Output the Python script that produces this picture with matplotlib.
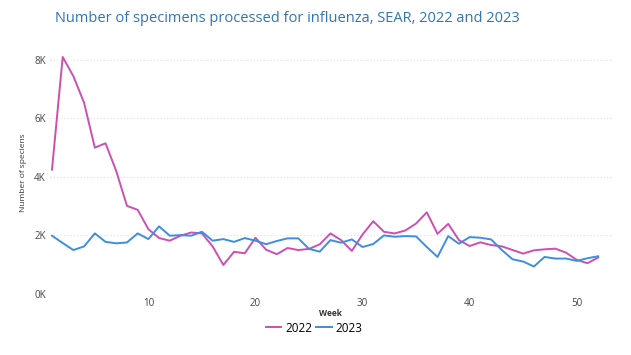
import matplotlib
matplotlib.use('Agg')
import matplotlib.pyplot as plt
from matplotlib.ticker import FuncFormatter

weeks = list(range(1, 53))
y2022 = [4250, 8100, 7440, 6530, 5000, 5150, 4200, 3010, 2875, 2215,
         1910, 1820, 1990, 2100, 2070, 1625, 990, 1440, 1390, 1920,
         1510, 1360, 1570, 1500, 1540, 1695, 2068, 1840, 1470, 2034,
         2486, 2124, 2068, 2170, 2407, 2790, 2056, 2395, 1840, 1638,
         1763, 1672, 1627, 1503, 1378, 1491, 1525, 1548, 1412, 1164,
         1051, 1243]
y2023 = [1990, 1740, 1500, 1625, 2070, 1780, 1730, 1760, 2070, 1875,
         2310, 1990, 2010, 1990, 2125, 1820, 1875, 1780, 1910, 1820,
         1700, 1810, 1900, 1900, 1540, 1446, 1840, 1751, 1864, 1604,
         1706, 2000, 1955, 1977, 1966, 1604, 1265, 1977, 1717, 1943,
         1921, 1864, 1503, 1186, 1107, 938, 1265, 1209, 1209, 1130,
         1220, 1288]
yticks = [0, 2000, 4000, 6000, 8000]
xticks = [10, 20, 30, 40, 50]

plt.rcParams['font.family'] = ['Open Sans', 'DejaVu Sans']

fig = plt.figure(figsize=(6.31, 3.55), dpi=100)
ax = fig.add_axes([0.079, 0.172, 0.891, 0.684])

ax.plot(weeks, y2022, color='#CC4FB4', lw=1.4, label='2022')
ax.plot(weeks, y2023, color='#3E8EDE', lw=1.4, label='2023')

ax.set_xlim(0.8, 53.3)
ax.set_ylim(0, 8300)
ax.set_xticks(xticks)
ax.set_yticks(yticks)
ax.yaxis.set_major_formatter(FuncFormatter(lambda v, p: '%dK' % (v / 1000)))
ax.tick_params(length=0, labelsize=7, colors='#444444', pad=3)
ax.grid(axis='y', color='#dddddd', linestyle=(0, (1, 2)), lw=0.8)
for s in ax.spines.values():
    s.set_visible(False)

ax.set_ylabel('Number of speciens', fontsize=6, color='#333333', labelpad=5)
ax.set_xlabel('Week', fontsize=6, color='#333333', fontweight='bold', labelpad=0)

fig.text(0.087, 0.947, 'Number of specimens processed for influenza, SEAR, 2022 and 2023',
         fontsize=10.5, color='#2E75B6', va='center', ha='left')

fig.legend(loc='center', bbox_to_anchor=(0.498, 0.076), ncol=2, frameon=False,
           fontsize=8.5, handlelength=1.3, handletextpad=0.35, columnspacing=0.35)

fig.savefig('out.png', dpi=100, facecolor='white')
